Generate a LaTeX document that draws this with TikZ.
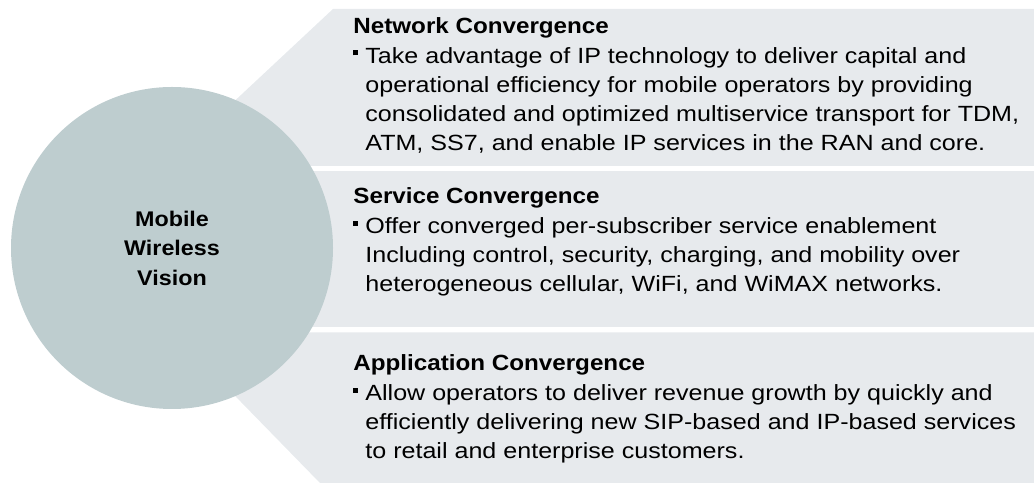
\documentclass[tikz,border=0pt]{standalone}
\usepackage{fontspec}
\setmainfont{Liberation Sans}[FakeStretch=1.14]
\newfontfamily\headfont{Liberation Sans}[FakeStretch=1.1]
\usetikzlibrary{positioning}

\definecolor{panelgray}{RGB}{231,234,237}
\definecolor{visionteal}{RGB}{190,205,207}

\tikzset{
    panel/.style={ fill=panelgray, draw=none },
    blurb/.style={ anchor=base west, inner sep=0pt, align=left,
        font=\fontsize{11}{14.5}\selectfont },
    vision/.style={ circle, fill=visionteal, minimum size=161pt, inner sep=0pt,
        align=center, font=\headfont\bfseries\fontsize{10.6}{14.75}\selectfont }
}
\newcommand{\sqbul}{\makebox[6pt][l]{\rule[4pt]{2.5pt}{2.5pt}}}
\newcommand{\cont}{\hspace*{6pt}}
\newcommand{\headline}[1]{{\headfont\bfseries #1}}

\begin{document}
\begin{tikzpicture}[ x=0.5pt, y=-0.5pt ]

	\useasboundingbox (0,0) rectangle (1034,485);

		% the three bands behind the circle
		\fill[ panel ] (333,9) -- (1034,9) -- (1034,166) -- (165,166) -- cycle;
		\fill[ panel ] (171,170.7) -- (1034,170.7) -- (1034,327) -- (171,327) -- cycle;
		\fill[ panel ] (173,332.3) -- (1034,332.3) -- (1034,483) -- (320,483) -- cycle;

		\node[ vision ] (hub) at (172,248) {Mobile\\ Wireless\\ Vision};

		% base of each block = baseline of its last line
		\node[ blurb ] (network) at (353,150.5) {\headline{Network Convergence}\\[0.5pt]
			\sqbul Take advantage of IP technology to deliver capital and\\
			\cont operational efficiency for mobile operators by providing\\
			\cont consolidated and optimized multiservice transport for TDM,\\
			\cont ATM, SS7, and enable IP services in the RAN and core.};

		\node[ blurb ] (service) at (353,292) {\headline{Service Convergence}\\[0.5pt]
			\sqbul Offer converged per-subscriber service enablement\\
			\cont Including control, security, charging, and mobility over\\
			\cont heterogeneous cellular, WiFi, and WiMAX networks.};

		\node[ blurb ] (application) at (353,458.7) {\headline{Application Convergence}\\[0.5pt]
			\sqbul Allow operators to deliver revenue growth by quickly and\\
			\cont efficiently delivering new SIP-based and IP-based services\\
			\cont to retail and enterprise customers.};

\end{tikzpicture}
\end{document}
